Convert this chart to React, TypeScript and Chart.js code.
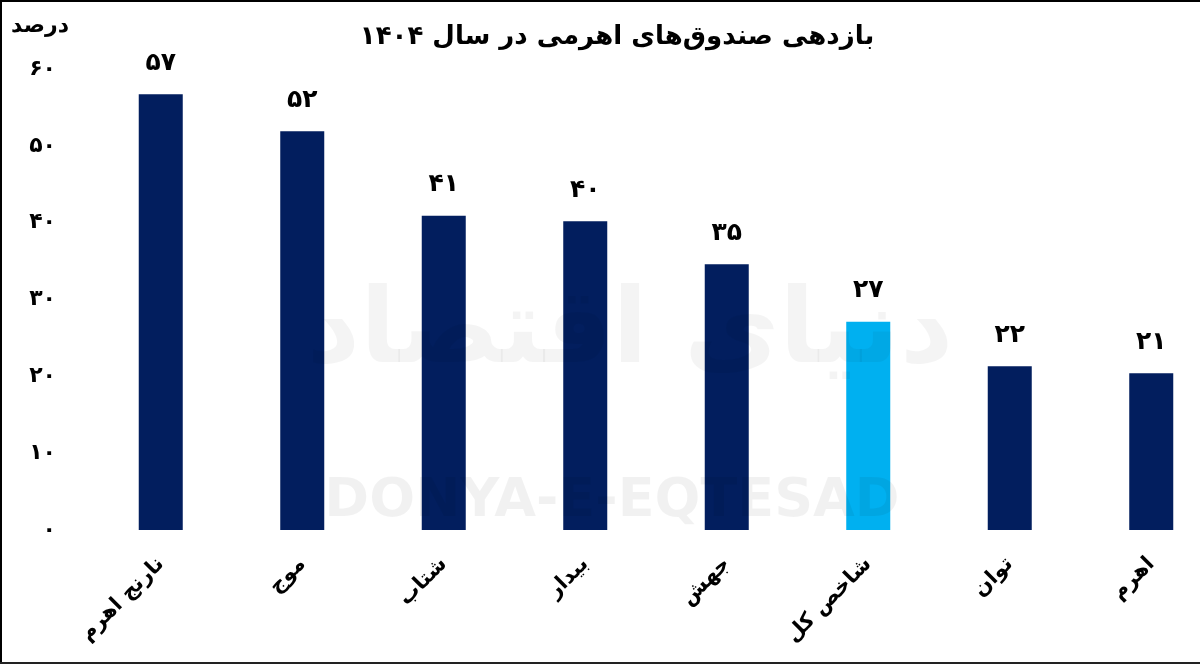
import React, { useEffect, useRef } from "react";
import { Chart, registerables } from "chart.js";

Chart.register(...registerables);

// ---- data ----
const categories = ["نارنج اهرم", "موج", "شتاب", "بیدار", "جهش", "شاخص کل", "توان", "اهرم"];
const returns = [56.7, 51.9, 40.9, 40.2, 34.6, 27.1, 21.3, 20.4];
const valueLabels = [57, 52, 41, 40, 35, 27, 22, 21];
const highlighted = [false, false, false, false, false, true, false, false];
const yTickValues = [0, 10, 20, 30, 40, 50, 60];
const chartTitle = "بازدهی صندوق‌های اهرمی در سال ۱۴۰۴";
const unitLabel = "درصد";
const watermarkLatin = "DONYA-E-EQTESAD";
const watermarkPersian = "دنیای اقتصاد";

const NAVY = "#021e5e";
const LIGHT = "#00b0f0";
const FONT = "'DejaVu Sans', sans-serif";

const toFa = (n: number | string) =>
  String(n).replace(/[0-9]/g, (d) => "۰۱۲۳۴۵۶۷۸۹"[Number(d)]);

const CANVAS_W = 1232;
const CANVAS_H = 664;

export default function App() {
  const ref = useRef<HTMLCanvasElement | null>(null);

  useEffect(() => {
    if (!ref.current) return;

    const decor = {
      id: "decor",
      afterDatasetsDraw(chart: any) {
        const ctx = chart.ctx;
        const meta = chart.getDatasetMeta(0);
        ctx.save();
        // watermark
        ctx.fillStyle = "rgba(0,0,0,0.055)";
        ctx.textAlign = "center";
        ctx.textBaseline = "middle";
        ctx.font = `bold 54px ${FONT}`;
        ctx.fillText(watermarkLatin, 612, 502);
        ctx.fillStyle = "rgba(0,0,0,0.045)";
        ctx.font = `bold 104px ${FONT}`;
        ctx.fillText(watermarkPersian, 630, 335);
        // value labels
        ctx.fillStyle = "#000";
        ctx.font = `bold 25px ${FONT}`;
        ctx.textAlign = "center";
        ctx.textBaseline = "middle";
        meta.data.forEach((bar: any, i: number) => {
          ctx.fillText(toFa(valueLabels[i]), bar.x, bar.y - 31);
        });
        ctx.restore();
      },
      afterDraw(chart: any) {
        const ctx = chart.ctx;
        ctx.save();
        ctx.fillStyle = "#000";
        ctx.textBaseline = "middle";
        ctx.textAlign = "center";
        ctx.font = `bold 26px ${FONT}`;
        ctx.fillText(chartTitle, 617, 37);
        ctx.textAlign = "left";
        ctx.font = `bold 22px ${FONT}`;
        ctx.fillText(unitLabel, 11, 26);
        // frame
        ctx.fillStyle = "#000";
        ctx.fillRect(0, 0, CANVAS_W, 2);
        ctx.fillRect(0, 0, 2, CANVAS_H);
        ctx.fillStyle = "#222";
        ctx.fillRect(0, CANVAS_H - 2, CANVAS_W, 2);
        ctx.restore();
      },
    };

    const chart = new Chart(ref.current, {
      type: "bar",
      data: {
        labels: categories,
        datasets: [
          {
            data: returns,
            backgroundColor: highlighted.map((h) => (h ? LIGHT : NAVY)),
            borderWidth: 0,
            barPercentage: 1,
            categoryPercentage: 0.311,
          },
        ],
      },
      options: {
        responsive: false,
        animation: false,
        devicePixelRatio: 1,
        layout: { padding: { left: 0, right: 10, top: 69, bottom: 0 } },
        plugins: {
          legend: { display: false },
          tooltip: { enabled: false },
          title: { display: false },
        },
        scales: {
          x: {
            grid: { display: false, drawTicks: false },
            border: { display: false },
            ticks: {
              color: "#000",
              font: { family: FONT, size: 21, weight: "bold" },
              minRotation: 45,
              maxRotation: 45,
              padding: 22,
              autoSkip: false,
            },
            afterFit: (s: any) => {
              s.height = 134;
            },
          },
          y: {
            min: 0,
            max: 60,
            grid: { display: false, drawTicks: false },
            border: { display: false },
            afterBuildTicks: (s: any) => {
              s.ticks = yTickValues.map((v) => ({ value: v }));
            },
            ticks: {
              color: "#000",
              font: { family: FONT, size: 22, weight: "bold" },
              padding: 34,
              callback: (v: any) => toFa(v),
            },
            afterFit: (s: any) => {
              s.width = 90;
            },
          },
        },
      },
      plugins: [decor],
    });

    return () => chart.destroy();
  }, []);

  return (
    <div
      style={{
        position: "fixed",
        left: 0,
        top: 0,
        width: 1200,
        height: 664,
        overflow: "hidden",
        background: "#fff",
      }}
    >
      <canvas ref={ref} width={CANVAS_W} height={CANVAS_H} style={{ display: "block" }} />
    </div>
  );
}
